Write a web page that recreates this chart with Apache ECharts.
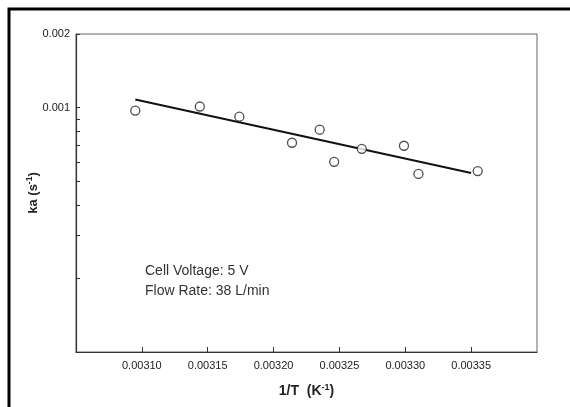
<!DOCTYPE html>
<html>
<head>
<meta charset="utf-8">
<script src="https://cdn.jsdelivr.net/npm/echarts@6/dist/echarts.min.js"></script>
<style>
html,body{margin:0;padding:0;background:#fff;}
#chart{width:570px;height:407px;}
</style>
</head>
<body>
<div id="chart"></div>
<script>
// 1/T values (K^-1)
const invT = [0.003095, 0.003144, 0.003174, 0.003214, 0.003235, 0.003246, 0.003267, 0.003299, 0.003310, 0.003355];
// ka values (s^-1)
const ka = [0.000972, 0.00101, 0.000918, 0.000718, 0.000812, 0.000600, 0.000678, 0.000698, 0.000535, 0.00055];
// fitted line end points
const fitX = [0.003095, 0.00335];
const fitY = [0.00108, 0.00054];
// axis ticks / labels
const xTickValues = [0.0031, 0.00315, 0.0032, 0.00325, 0.0033, 0.00335];
const yLabelValues = [0.001, 0.002];
const yTickValues = [0.0002, 0.0003, 0.0004, 0.0005, 0.0006, 0.0007, 0.0008, 0.0009, 0.001, 0.002];
const annotations = ['Cell Voltage: 5 V', 'Flow Rate: 38 L/min'];

const chart = echarts.init(document.getElementById('chart'));
const font = 'Liberation Sans, Arial, sans-serif';

chart.setOption({
  backgroundColor: '#fff',
  animation: false,
  grid: {left: 76, right: 33, top: 34, bottom: 55, show: true, borderColor: '#666', borderWidth: 1, backgroundColor: '#fff'},
  xAxis: {
    type: 'value', min: 0.00305, max: 0.0034, interval: 0.00005,
    name: '{b|1/T  (K}{sup|-1}{b|)}', nameLocation: 'middle', nameGap: 31,
    nameTextStyle: {rich: {
      b: {fontFamily: font, fontSize: 14, fontWeight: 'bold', color: '#222', lineHeight: 17},
      sup: {fontFamily: font, fontSize: 9, fontWeight: 'bold', color: '#222', verticalAlign: 'top', lineHeight: 17}
    }},
    axisLine: {lineStyle: {color: '#333', width: 1.2}},
    axisTick: {inside: true, length: 5, lineStyle: {color: '#333'}, customValues: xTickValues},
    axisLabel: {customValues: xTickValues, formatter: v => v.toFixed(5), fontFamily: font, fontSize: 11, color: '#222', margin: 8},
    splitLine: {show: false}
  },
  yAxis: {
    type: 'log', logBase: 10, min: 0.0001, max: 0.002,
    name: '{b|ka (s}{sup|-1}{b|)}', nameLocation: 'middle', nameGap: 35, nameRotate: 90, nameMoveOverlap: false,
    nameTextStyle: {rich: {
      b: {fontFamily: font, fontSize: 13, fontWeight: 'bold', color: '#222', lineHeight: 16},
      sup: {fontFamily: font, fontSize: 8.5, fontWeight: 'bold', color: '#222', verticalAlign: 'top', lineHeight: 16}
    }},
    axisLine: {lineStyle: {color: '#333', width: 1.2}},
    axisTick: {inside: true, length: 4, lineStyle: {color: '#333'}, customValues: yTickValues},
    axisLabel: {customValues: yLabelValues, formatter: v => String(v), fontFamily: font, fontSize: 11, color: '#222', margin: 6},
    splitLine: {show: false}
  },
  graphic: [
    {type: 'rect', shape: {x: 9, y: 9, width: 640, height: 480}, style: {fill: null, stroke: '#000', lineWidth: 3}, z: 100},
    {type: 'text', left: 145, top: 264, style: {text: annotations[0], fontFamily: font, fontSize: 14, fill: '#333'}},
    {type: 'text', left: 145, top: 284, style: {text: annotations[1], fontFamily: font, fontSize: 14, fill: '#333'}}
  ],
  series: [
    {
      type: 'line', data: fitX.map((x, i) => [x, fitY[i]]), symbol: 'none',
      lineStyle: {color: '#111', width: 2}, z: 2
    },
    {
      type: 'scatter', data: invT.map((x, i) => [x, ka[i]]), symbol: 'circle', symbolSize: 9,
      itemStyle: {color: '#fff', borderColor: '#222', borderWidth: 1.3}, z: 3
    }
  ]
});
</script>
</body>
</html>
